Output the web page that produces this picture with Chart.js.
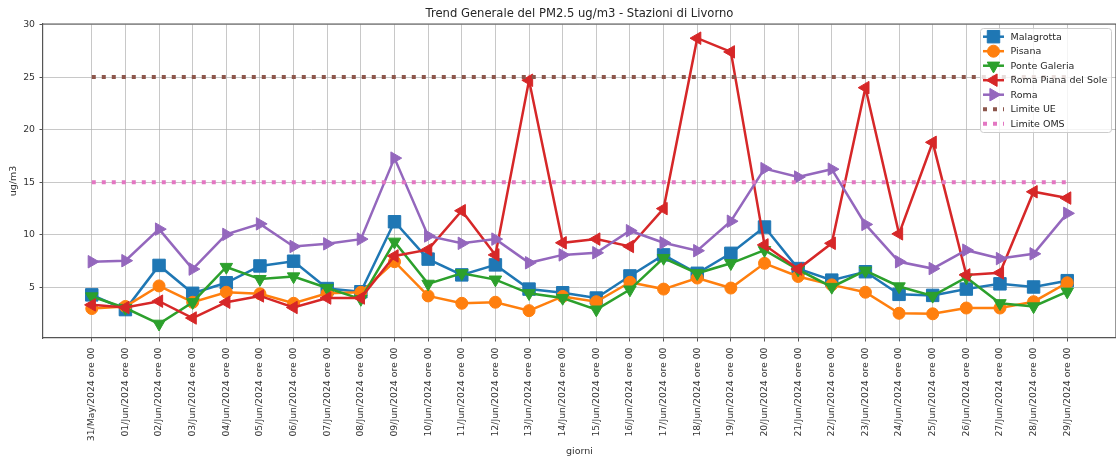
<!DOCTYPE html>
<html>
<head>
<meta charset="utf-8">
<script src="https://cdn.jsdelivr.net/npm/chart.js@4.4.1/dist/chart.umd.min.js"></script>
<style>
  html, body { margin: 0; padding: 0; background: #fff; }
</style>
</head>
<body>
<canvas id="myChart" width="1116" height="460"></canvas>
<script>
const chartTitle = 'Trend Generale del PM2.5 ug/m3 - Stazioni di Livorno';

const days = [
  '31/May/2024 ore 00', '01/Jun/2024 ore 00', '02/Jun/2024 ore 00', '03/Jun/2024 ore 00',
  '04/Jun/2024 ore 00', '05/Jun/2024 ore 00', '06/Jun/2024 ore 00', '07/Jun/2024 ore 00',
  '08/Jun/2024 ore 00', '09/Jun/2024 ore 00', '10/Jun/2024 ore 00', '11/Jun/2024 ore 00',
  '12/Jun/2024 ore 00', '13/Jun/2024 ore 00', '14/Jun/2024 ore 00', '15/Jun/2024 ore 00',
  '16/Jun/2024 ore 00', '17/Jun/2024 ore 00', '18/Jun/2024 ore 00', '19/Jun/2024 ore 00',
  '20/Jun/2024 ore 00', '21/Jun/2024 ore 00', '22/Jun/2024 ore 00', '23/Jun/2024 ore 00',
  '24/Jun/2024 ore 00', '25/Jun/2024 ore 00', '26/Jun/2024 ore 00', '27/Jun/2024 ore 00',
  '28/Jun/2024 ore 00', '29/Jun/2024 ore 00'
];

const malagrotta = [4.3, 2.9, 7.1, 4.45, 5.45, 7.05, 7.5, 4.9, 4.6, 11.25, 7.7, 6.2, 7.15, 4.85, 4.5,
  4.0, 6.1, 8.1, 6.35, 8.25, 10.75, 6.8, 5.7, 6.5, 4.35, 4.25, 4.85, 5.35, 5.05, 5.65];
const pisana = [3.0, 3.2, 5.15, 3.6, 4.55, 4.4, 3.5, 4.45, 4.55, 7.45, 4.2, 3.5, 3.6, 2.8, 4.15,
  3.65, 5.5, 4.85, 5.9, 4.95, 7.3, 6.05, 5.25, 4.55, 2.55, 2.5, 3.05, 3.05, 3.65, 5.45];
const ponteGaleria = [4.15, 3.05, 1.55, 3.6, 6.95, 5.8, 6.05, 4.95, 3.9, 9.35, 5.35, 6.35, 5.75, 4.45, 4.0,
  2.9, 4.8, 7.8, 6.35, 7.3, 8.55, 6.7, 5.05, 6.6, 5.1, 4.2, 5.95, 3.5, 3.2, 4.6];
const romaPianaDelSole = [3.35, 3.1, 3.7, 2.1, 3.6, 4.2, 3.1, 4.0, 4.0, 8.0, 8.6, 12.3, 8.1, 24.7, 9.25,
  9.6, 8.9, 12.5, 28.7, 27.4, 9.05, 6.75, 9.2, 24.0, 10.1, 18.8, 6.2, 6.4, 14.1, 13.5];
const roma = [7.45, 7.55, 10.55, 6.75, 10.05, 11.05, 8.9, 9.15, 9.6, 17.3, 9.9, 9.2, 9.6, 7.35, 8.1,
  8.3, 10.4, 9.25, 8.5, 11.3, 16.3, 15.5, 16.25, 11.0, 7.45, 6.8, 8.55, 7.75, 8.2, 12.05];

// reference limits (same value every day)
const limiteUE = 25;
const limiteOMS = 15;

const yTicks = [5, 10, 15, 20, 25, 30];

const FONT = '"DejaVu Sans", Verdana, sans-serif';
const gridColor = 'rgba(176,176,176,0.7)';
const spineColor = '#555';

function pts(values) {
  return values.map((v, i) => ({ x: i, y: v }));
}

function station(label, values, color, style, radius, rotation, order) {
  return {
    label: label,
    data: pts(values),
    borderColor: color,
    backgroundColor: color,
    borderWidth: 2.5,
    pointStyle: style,
    pointRadius: radius,
    pointRotation: rotation,
    pointBorderWidth: 1,
    pointBackgroundColor: color,
    pointBorderColor: color,
    tension: 0,
    order: order
  };
}

function limit(label, value, color, order) {
  return {
    label: label,
    data: days.map((d, i) => ({ x: i, y: value })),
    borderColor: color,
    backgroundColor: color,
    borderWidth: 4,
    borderDash: [4, 6],
    borderCapStyle: 'butt',
    pointRadius: 0,
    tension: 0,
    order: order
  };
}

const datasets = [
  station('Malagrotta', malagrotta, '#1f77b4', 'rect', 8.8, 0, 7),
  station('Pisana', pisana, '#ff7f0e', 'circle', 6, 0, 6),
  station('Ponte Galeria', ponteGaleria, '#2ca02c', 'triangle', 7.2, 180, 5),
  station('Roma Piana del Sole', romaPianaDelSole, '#d62728', 'triangle', 7.2, -90, 4),
  station('Roma', roma, '#9467bd', 'triangle', 7.2, 90, 3),
  limit('Limite UE', limiteUE, '#8c564b', 2),
  limit('Limite OMS', limiteOMS, '#e377c2', 1)
];

// title, top/right spines and the in-plot legend
const decorations = {
  id: 'decorations',
  afterDraw(chart) {
    const ctx = chart.ctx;
    const a = chart.chartArea;
    ctx.save();

    ctx.strokeStyle = spineColor;
    ctx.lineWidth = 1.2;
    ctx.setLineDash([]);
    ctx.beginPath();
    ctx.moveTo(a.left, a.top);
    ctx.lineTo(a.right, a.top);
    ctx.lineTo(a.right, a.bottom);
    ctx.stroke();

    ctx.fillStyle = '#262626';
    ctx.font = '11.6px ' + FONT;
    ctx.textAlign = 'center';
    ctx.textBaseline = 'middle';
    ctx.fillText(chartTitle, (a.left + a.right) / 2, 13.5);

    // legend box
    const bx = 980.5, by = 28.5, bw = 131, bh = 104;
    ctx.fillStyle = 'rgba(255,255,255,0.8)';
    ctx.strokeStyle = '#cccccc';
    ctx.lineWidth = 1;
    ctx.beginPath();
    if (ctx.roundRect) ctx.roundRect(bx, by, bw, bh, 3);
    else ctx.rect(bx, by, bw, bh);
    ctx.fill();
    ctx.stroke();

    chart.data.datasets.forEach((ds, i) => {
      const y = 36.7 + 14.5 * i;
      ctx.strokeStyle = ds.borderColor;
      ctx.lineWidth = ds.borderWidth;
      ctx.lineCap = 'butt';
      ctx.setLineDash(ds.borderDash || []);
      ctx.beginPath();
      ctx.moveTo(983, y);
      ctx.lineTo(1004, y);
      ctx.stroke();
      ctx.setLineDash([]);
      if (ds.pointRadius > 0 && Chart.helpers && Chart.helpers.drawPoint) {
        ctx.fillStyle = ds.pointBackgroundColor;
        ctx.strokeStyle = ds.pointBorderColor;
        ctx.lineWidth = 1;
        Chart.helpers.drawPoint(ctx, {
          pointStyle: ds.pointStyle,
          rotation: ds.pointRotation,
          radius: ds.pointRadius,
          borderWidth: 1
        }, 993.5, y);
      }
      ctx.fillStyle = '#262626';
      ctx.font = '9.5px ' + FONT;
      ctx.textAlign = 'left';
      ctx.textBaseline = 'middle';
      ctx.fillText(ds.label, 1010.5, y + 0.5);
    });

    ctx.restore();
  }
};

const config = {
  type: 'line',
  data: { datasets: datasets },
  options: {
    responsive: false,
    animation: false,
    layout: { autoPadding: false, padding: { top: 24, right: 0, bottom: 0, left: 0 } },
    plugins: {
      legend: { display: false },
      title: { display: false },
      tooltip: { enabled: false }
    },
    scales: {
      x: {
        type: 'linear',
        min: -1.45,
        max: 30.45,
        afterBuildTicks: (scale) => { scale.ticks = days.map((d, i) => ({ value: i })); },
        afterFit: (scale) => {
          scale.height = 122;
          scale.paddingLeft = 0;
          scale.paddingRight = 0;
        },
        ticks: {
          autoSkip: false,
          maxRotation: 90,
          minRotation: 90,
          padding: 6,
          color: '#333',
          font: { family: FONT, size: 9.3 },
          callback: (v) => days[v]
        },
        grid: { color: gridColor, lineWidth: 1, tickLength: 3.5, tickColor: spineColor },
        border: { color: spineColor, width: 1.2 },
        title: {
          display: true,
          text: 'giorni',
          color: '#333',
          font: { family: FONT, size: 9.5 },
          padding: { top: 2, bottom: 2.3 }
        }
      },
      y: {
        type: 'linear',
        min: 0.2,
        max: 30.05,
        afterBuildTicks: (scale) => { scale.ticks = yTicks.map((v) => ({ value: v })); },
        afterFit: (scale) => {
          scale.width = 43;
          scale.paddingTop = 0;
          scale.paddingBottom = 0;
        },
        ticks: {
          padding: 4.5,
          color: '#333',
          font: { family: FONT, size: 9.3 },
          callback: (v) => String(v)
        },
        grid: { color: gridColor, lineWidth: 1, tickLength: 3.5, tickColor: spineColor },
        border: { color: spineColor, width: 1.2 },
        title: {
          display: true,
          text: 'ug/m3',
          color: '#333',
          font: { family: FONT, size: 9.5 },
          padding: { top: 8.3, bottom: 2 }
        }
      }
    }
  },
  plugins: [decorations]
};

const myChart = new Chart(document.getElementById('myChart'), config);
</script>
</body>
</html>
